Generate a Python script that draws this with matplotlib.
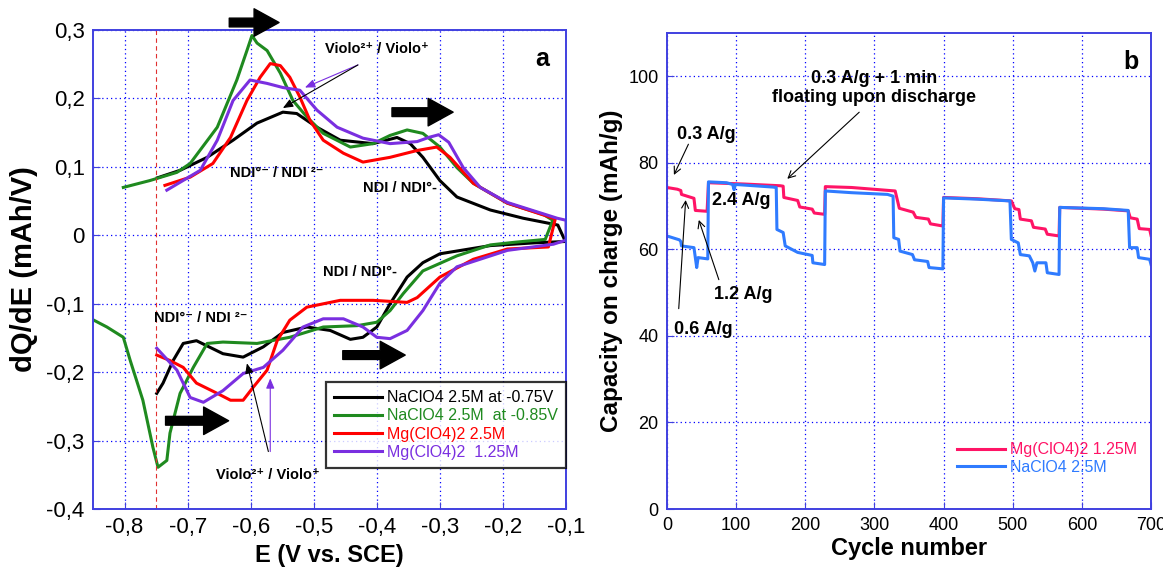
import matplotlib
matplotlib.use("Agg")
import matplotlib.pyplot as plt
from matplotlib.ticker import FuncFormatter

plt.rcParams["font.family"] = ["Liberation Sans", "DejaVu Sans"]
plt.rcParams["axes.unicode_minus"] = False

# ---- panel a: dQ/dE vs E (upper branch left->right, then lower branch right->left)
black_E = [-0.748, -0.712, -0.669, -0.628, -0.590, -0.549, -0.527, -0.495, -0.458, -0.406,
           -0.368, -0.347, -0.327, -0.300, -0.273, -0.220, -0.168, -0.113, -0.101,
           -0.150, -0.220, -0.300, -0.327, -0.352, -0.379, -0.400, -0.422, -0.442, -0.474,
           -0.511, -0.549, -0.580, -0.612, -0.644, -0.686, -0.707, -0.723, -0.739, -0.749]
black_dQ = [0.084, 0.095, 0.114, 0.139, 0.164, 0.180, 0.178, 0.158, 0.139, 0.134,
            0.143, 0.134, 0.114, 0.080, 0.056, 0.037, 0.025, 0.015, -0.009,
            -0.011, -0.015, -0.027, -0.040, -0.061, -0.100, -0.134, -0.149, -0.152, -0.139,
            -0.134, -0.142, -0.163, -0.178, -0.173, -0.154, -0.158, -0.183, -0.216, -0.231]

green_E = [-0.802, -0.760, -0.717, -0.696, -0.653, -0.622, -0.606, -0.598, -0.590, -0.574,
           -0.553, -0.533, -0.511, -0.485, -0.442, -0.406, -0.379, -0.352, -0.327, -0.300,
           -0.273, -0.247, -0.193, -0.135, -0.121, -0.133,
           -0.180, -0.220, -0.273, -0.327, -0.358, -0.379, -0.400, -0.431, -0.485, -0.538,
           -0.590, -0.644, -0.669, -0.691, -0.712, -0.728, -0.733, -0.747, -0.755, -0.771,
           -0.791, -0.802, -0.828, -0.855]
green_dQ = [0.070, 0.080, 0.092, 0.105, 0.158, 0.227, 0.270, 0.292, 0.281, 0.270,
            0.237, 0.197, 0.173, 0.149, 0.129, 0.134, 0.146, 0.154, 0.149, 0.129,
            0.099, 0.076, 0.047, 0.030, 0.022, -0.006,
            -0.010, -0.014, -0.030, -0.052, -0.085, -0.110, -0.127, -0.132, -0.134, -0.149,
            -0.158, -0.156, -0.158, -0.193, -0.231, -0.289, -0.329, -0.339, -0.310, -0.241,
            -0.183, -0.149, -0.134, -0.121]

red_E = [-0.736, -0.696, -0.660, -0.632, -0.606, -0.585, -0.569, -0.553, -0.538, -0.522,
         -0.506, -0.485, -0.453, -0.422, -0.379, -0.336, -0.305, -0.284, -0.247, -0.193,
         -0.117, -0.128,
         -0.193, -0.247, -0.300, -0.336, -0.352, -0.406, -0.458, -0.511, -0.538, -0.558,
         -0.574, -0.596, -0.612, -0.632, -0.653, -0.686, -0.707, -0.728, -0.749]
red_dQ = [0.073, 0.085, 0.105, 0.143, 0.197, 0.231, 0.251, 0.248, 0.231, 0.202,
          0.168, 0.139, 0.120, 0.107, 0.114, 0.124, 0.129, 0.114, 0.076, 0.047,
          0.024, -0.017,
          -0.020, -0.035, -0.061, -0.091, -0.098, -0.095, -0.095, -0.105, -0.124, -0.154,
          -0.197, -0.222, -0.241, -0.241, -0.231, -0.216, -0.193, -0.183, -0.175]

purple_E = [-0.733, -0.680, -0.653, -0.628, -0.601, -0.574, -0.549, -0.522, -0.495, -0.463,
            -0.422, -0.379, -0.336, -0.318, -0.302, -0.286, -0.263, -0.236, -0.193, -0.114,
            -0.100, -0.100,
            -0.120, -0.193, -0.273, -0.300, -0.327, -0.352, -0.379, -0.400, -0.422, -0.453,
            -0.485, -0.517, -0.549, -0.580, -0.612, -0.644, -0.675, -0.696, -0.717, -0.749]
purple_dQ = [0.066, 0.095, 0.139, 0.197, 0.227, 0.222, 0.216, 0.212, 0.183, 0.158,
             0.142, 0.134, 0.137, 0.143, 0.147, 0.136, 0.099, 0.070, 0.048, 0.025,
             0.022, -0.007,
             -0.013, -0.022, -0.046, -0.070, -0.110, -0.139, -0.151, -0.149, -0.134, -0.122,
             -0.122, -0.134, -0.168, -0.193, -0.202, -0.227, -0.244, -0.237, -0.197, -0.165]

labels_a = ["NaClO4 2.5M at -0.75V", "NaClO4 2.5M  at -0.85V", "Mg(ClO4)2 2.5M", "Mg(ClO4)2  1.25M"]
colors_a = ["black", "#1f8a1f", "#ff0000", "#7a2fe0"]

# ---- panel b: capacity on charge vs cycle
mg_cycle = [0, 15, 20, 21, 39, 41, 58, 60, 112, 164, 168, 169, 189, 192, 210, 213, 228, 229,
            267, 314, 330, 336, 356, 360, 378, 381, 399, 400, 449, 498, 503, 509, 511, 527,
            530, 547, 550, 567, 568, 631, 667, 670, 680, 683, 698, 700]
mg_cap = [74.3, 73.9, 73.6, 72.7, 71.8, 69.0, 68.8, 75.4, 75.1, 74.7, 74.6, 72.0, 71.3, 69.8,
          69.3, 68.4, 68.1, 74.5, 74.3, 73.7, 73.5, 69.5, 68.6, 67.4, 67.0, 65.9, 65.4, 72.0,
          71.7, 71.2, 69.4, 69.2, 67.0, 66.6, 65.1, 64.7, 63.5, 63.1, 69.7, 69.3, 68.9, 67.3,
          67.0, 64.8, 64.6, 63.2]

na_cycle = [0, 18, 20, 21, 39, 41, 43, 45, 59, 60, 86, 95, 97, 99, 153, 158, 159, 168, 171,
            189, 210, 211, 228, 229, 267, 319, 327, 328, 335, 337, 355, 358, 377, 379, 399,
            400, 449, 496, 498, 508, 511, 524, 529, 532, 535, 548, 550, 567, 568, 631, 667,
            669, 680, 682, 698, 700]
na_cap = [63.1, 62.2, 61.8, 60.8, 60.4, 58.1, 55.8, 58.1, 57.8, 75.6, 75.4, 75.0, 73.8, 75.0,
          74.4, 74.3, 64.6, 63.9, 60.8, 59.3, 58.6, 56.9, 56.5, 73.5, 73.1, 72.7, 72.3, 62.7,
          62.3, 59.6, 58.8, 57.6, 57.2, 55.8, 55.5, 71.9, 71.6, 71.2, 62.3, 61.5, 58.8, 58.5,
          56.9, 55.0, 56.9, 56.9, 54.6, 54.2, 69.7, 69.4, 69.0, 60.4, 60.4, 58.1, 57.7, 56.5]

labels_b = ["Mg(ClO4)2 1.25M", "NaClO4 2.5M"]
colors_b = ["#ff1466", "#2f7bff"]

SPINE = "#4040e0"
GRID = "#0000ff"


def comma(v, pos):
    s = "%g" % round(v, 2)
    if s == "-0":
        s = "0"
    return s.replace(".", ",")


def style_axes(ax, size):
    for sp in ax.spines.values():
        sp.set_color(SPINE)
        sp.set_linewidth(1.4)
    ax.grid(True, color=GRID, linestyle=(0, (1, 2.5)), linewidth=0.9)
    ax.tick_params(direction="in", length=5, color=SPINE, labelsize=size, pad=6)
    ax.set_axisbelow(True)


fig = plt.figure(figsize=(11.63, 5.69), dpi=100)
ax1 = fig.add_axes([0.080, 0.1054, 0.4067, 0.8418])
ax2 = fig.add_axes([0.5735, 0.1054, 0.4162, 0.8366])

# panel a
series_a = [(black_E, black_dQ), (green_E, green_dQ), (red_E, red_dQ), (purple_E, purple_dQ)]
for (e, q), lab, c in zip(series_a, labels_a, colors_a):
    ax1.plot(e, q, color=c, lw=2.2, label=lab)
ax1.axvline(-0.75, color="#e03030", lw=0.8, ls=(0, (4, 3)))
ax1.set_xlim(-0.85, -0.1)
ax1.set_ylim(-0.4, 0.3)
ax1.set_xticks([-0.8, -0.7, -0.6, -0.5, -0.4, -0.3, -0.2, -0.1])
ax1.set_yticks([-0.4, -0.3, -0.2, -0.1, 0, 0.1, 0.2, 0.3])
ax1.xaxis.set_major_formatter(FuncFormatter(comma))
ax1.yaxis.set_major_formatter(FuncFormatter(comma))
style_axes(ax1, 16)
ax1.set_xlabel("E (V vs. SCE)", fontsize=17, fontweight="bold", labelpad=4)
ax1.set_ylabel("dQ/dE (mAh/V)", fontsize=21, fontweight="bold", labelpad=6)

leg = ax1.legend(loc="lower right", bbox_to_anchor=(1.0, 0.086), borderaxespad=0,
                 fontsize=11.5, frameon=True, fancybox=False, handlelength=3.0,
                 labelspacing=0.2, handletextpad=0.3, borderpad=0.5)
leg.get_frame().set_edgecolor("black")
leg.get_frame().set_linewidth(1.6)
for t, c in zip(leg.get_texts(), colors_a):
    t.set_color(c)

big = dict(arrowstyle="simple,tail_width=0.35,head_width=1.1,head_length=1.0",
           color="black", mutation_scale=18, shrinkA=0, shrinkB=0)
for start, end in [((-0.634, 0.311), (-0.555, 0.311)), ((-0.376, 0.180), (-0.279, 0.180)),
                   ((-0.454, -0.175), (-0.355, -0.175)), ((-0.735, -0.271), (-0.635, -0.271))]:
    ax1.annotate("", xy=end, xytext=start, arrowprops=big, annotation_clip=False)

fb = dict(fontsize=10.5, fontweight="bold", ha="center", va="center")
thin = dict(arrowstyle="-|>,head_length=0.6,head_width=0.25", lw=0.8, shrinkA=0, shrinkB=0)
ax1.text(-0.40, 0.272, "Violo²⁺ / Violo⁺", **fb)
ax1.annotate("", xy=(-0.514, 0.216), xytext=(-0.430, 0.249), arrowprops=dict(thin, color=colors_a[3]))
ax1.annotate("", xy=(-0.549, 0.186), xytext=(-0.430, 0.249), arrowprops=dict(thin, color="black"))
ax1.text(-0.558, 0.091, "NDI°⁻ / NDI ²⁻", **fb)
ax1.text(-0.363, 0.069, "NDI / NDI°-", **fb)
ax1.text(-0.427, -0.054, "NDI / NDI°-", **fb)
ax1.text(-0.680, -0.121, "NDI°⁻ / NDI ²⁻", **fb)
ax1.text(-0.572, -0.350, "Violo²⁺ / Violo⁺", **fb)
ax1.annotate("", xy=(-0.606, -0.187), xytext=(-0.572, -0.316), arrowprops=dict(thin, color="black"))
ax1.annotate("", xy=(-0.569, -0.209), xytext=(-0.569, -0.316), arrowprops=dict(thin, color=colors_a[3]))
ax1.text(0.965, 0.965, "a", transform=ax1.transAxes, fontsize=18, fontweight="bold",
         ha="right", va="top")

# panel b
ax2.plot(mg_cycle, mg_cap, color=colors_b[0], lw=2.2, label=labels_b[0])
ax2.plot(na_cycle, na_cap, color=colors_b[1], lw=2.2, label=labels_b[1])
ax2.set_xlim(0, 700)
ax2.set_ylim(0, 110)
ax2.set_xticks(range(0, 701, 100))
ax2.set_yticks(range(0, 101, 20))
style_axes(ax2, 13)
ax2.set_xlabel("Cycle number", fontsize=17, fontweight="bold", labelpad=2)
ax2.set_ylabel("Capacity on charge (mAh/g)", fontsize=17.5, fontweight="bold", labelpad=4)

leg2 = ax2.legend(loc="lower left", bbox_to_anchor=(0.600, 0.072), borderaxespad=0,
                  fontsize=11.5, frameon=False, handlelength=3.0, labelspacing=0.15,
                  handletextpad=0.3, borderpad=0)
for t, c in zip(leg2.get_texts(), colors_b):
    t.set_color(c)

fbb = dict(fontsize=13, fontweight="bold")
sm = dict(arrowstyle="->,head_length=0.5,head_width=0.25", lw=0.8, color="black",
          shrinkA=0, shrinkB=0)
ax2.text(300, 97.3, "0.3 A/g + 1 min\nfloating upon discharge", ha="center", va="center",
         linespacing=1.15, **fbb)
ax2.annotate("", xy=(174, 76.3), xytext=(278, 91.7), arrowprops=sm)
ax2.text(57, 86.6, "0.3 A/g", ha="center", va="center", **fbb)
ax2.annotate("", xy=(10, 77.2), xytext=(31, 84.3), arrowprops=sm)
ax2.text(108, 71.3, "2.4 A/g", ha="center", va="center", **fbb)
ax2.text(110, 49.6, "1.2 A/g", ha="center", va="center", **fbb)
ax2.annotate("", xy=(46, 66.8), xytext=(75, 53.0), arrowprops=sm)
ax2.text(52, 41.5, "0.6 A/g", ha="center", va="center", **fbb)
ax2.annotate("", xy=(27, 71.4), xytext=(17, 46.3), arrowprops=sm)
ax2.text(0.975, 0.965, "b", transform=ax2.transAxes, fontsize=18, fontweight="bold",
         ha="right", va="top")

fig.savefig("out.png", dpi=100)
